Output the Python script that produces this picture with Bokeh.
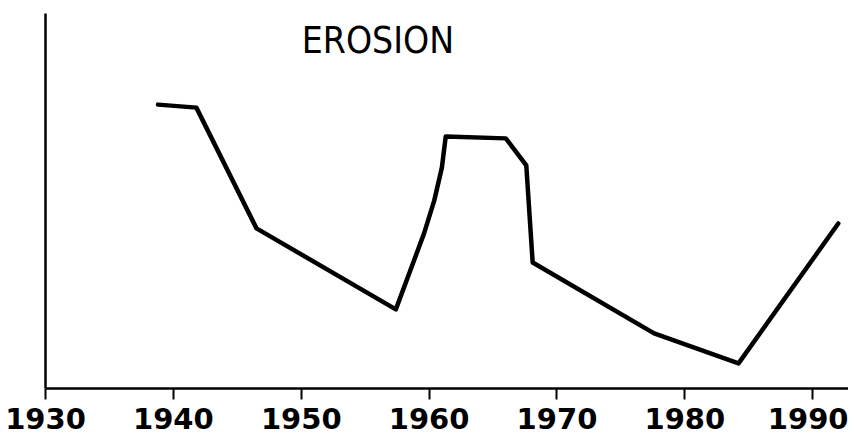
from bokeh.plotting import figure
from bokeh.models import Range1d, Label, FixedTicker
from bokeh.embed import file_html
from bokeh.resources import INLINE

# data
years = [1938.8, 1941.8, 1946.5, 1957.4, 1959.6, 1960.4, 1961.0, 1961.3,
         1966.0, 1967.6, 1968.1, 1977.6, 1984.2, 1992.0]
erosion = [75.7, 74.9, 42.7, 21.1, 41.3, 50.1, 58.9, 67.2,
           66.7, 59.5, 33.6, 14.7, 6.7, 44.0]
tick_years = [1930, 1940, 1950, 1960, 1970, 1980, 1990]
title_text = "EROSION"

p = figure(width=848, height=439, output_backend="svg", toolbar_location=None,
           x_range=Range1d(1930, 1992.8), y_range=Range1d(0, 100),
           min_border_left=45, min_border_right=0, min_border_top=13,
           min_border_bottom=51)
p.outline_line_color = None
p.xgrid.visible = False
p.ygrid.visible = False
p.background_fill_color = "white"
p.border_fill_color = "white"

p.line(years, erosion, line_width=4.5, line_color="black", line_join="round",
       line_cap="round")

xa = p.xaxis[0]
xa.ticker = FixedTicker(ticks=tick_years)
xa.axis_line_width = 2.5
xa.axis_line_color = "black"
xa.major_tick_in = 0
xa.major_tick_out = 11
xa.major_tick_line_width = 2
xa.minor_tick_line_color = None
xa.major_label_standoff = 8
xa.major_label_text_font = "DejaVu Sans"
xa.major_label_text_font_style = "bold"
xa.major_label_text_font_size = "29px"
xa.major_label_text_color = "black"

ya = p.yaxis[0]
ya.axis_line_width = 2.5
ya.axis_line_color = "black"
ya.major_tick_line_color = None
ya.minor_tick_line_color = None
ya.major_label_text_color = None
ya.major_label_text_font_size = "1px"

p.add_layout(Label(x=1956.0, y=92.8, text=title_text,
                   text_font="DejaVu Sans Condensed",
                   text_font_size="37px", text_color="black",
                   text_align="center", text_baseline="middle"))

open("out.html", "w").write(file_html(p, INLINE))
